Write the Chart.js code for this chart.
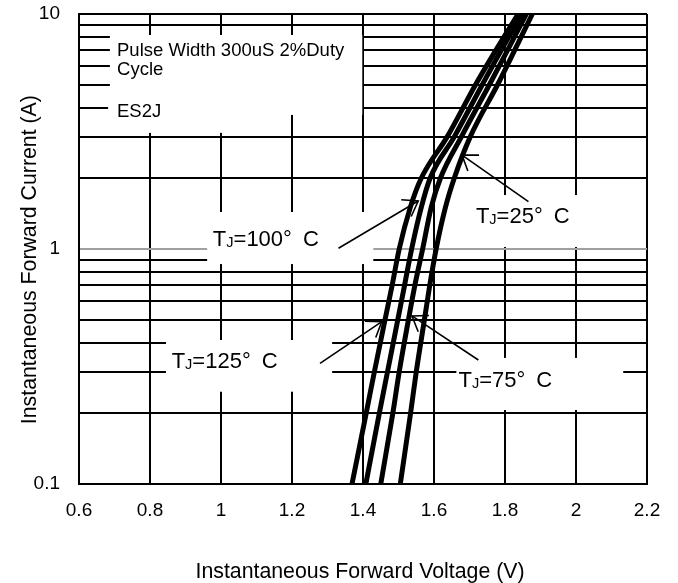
<!DOCTYPE html>
<html><head><meta charset="utf-8">
<script src="https://cdn.jsdelivr.net/npm/chart.js@4/dist/chart.umd.min.js"></script>
<style>html,body{margin:0;padding:0;background:#fff}#wrap{width:678px;height:583px;position:relative}</style>
</head><body><div id="wrap"><canvas id="c"></canvas></div>
<script>
// ---- data ----
const currentA = [0.1, 0.2, 0.3, 0.5, 0.7, 1, 1.5, 2, 3, 5, 7, 10];
const vf125 = [1.369, 1.409, 1.432, 1.462, 1.482, 1.502, 1.533, 1.564, 1.637, 1.717, 1.774, 1.837];
const vf100 = [1.408, 1.446, 1.469, 1.498, 1.517, 1.537, 1.564, 1.589, 1.657, 1.736, 1.789, 1.849];
const vf75  = [1.450, 1.484, 1.502, 1.528, 1.546, 1.568, 1.592, 1.618, 1.677, 1.756, 1.807, 1.860];
const vf25  = [1.505, 1.534, 1.550, 1.573, 1.588, 1.606, 1.632, 1.657, 1.702, 1.779, 1.827, 1.877];
const tjTemps = ['125', '100', '75', '25'];
const xTicks = [0.6, 0.8, 1, 1.2, 1.4, 1.6, 1.8, 2, 2.2];
const yGrid = [0.1,0.2,0.3,0.4,0.5,0.6,0.7,0.8,0.9,1,2,3,4,5,6,7,8,9,10];
const yTickLabels = ['0.1', '1', '10'];
const xTitle = 'Instantaneous Forward Voltage (V)';
const yTitle = 'Instantaneous Forward Current (A)';
const noteLines = ['Pulse Width 300uS 2%Duty', 'Cycle'];
const partName = 'ES2J';

const FONT = '"Liberation Sans", Arial, sans-serif';

// annotation layout (in data units: V on x, A on y)
const whiteBoxes = [
  {v0:0.687, v1:1.398, i0:8.14, i1:3.72},
  {v0:0.682, v1:1.110, i0:4.52, i1:3.12},
  {v0:0.961, v1:1.429, i0:1.437, i1:0.863},
  {v0:1.688, v1:2.150, i0:1.697, i1:1.02},
  {v0:0.845, v1:1.313, i0:0.41, i1:0.247},
  {v0:1.663, v1:2.133, i0:0.344, i1:0.2065}
];
const tjLabelPos = [ // 125,100,75,25
  {v:0.861, i:0.337},
  {v:0.977, i:1.114},
  {v:1.669, i:0.280},
  {v:1.718, i:1.395}
];
const arrows = [ // tail -> tip, order 125,100,75,25
  {v0:1.279, i0:0.326, v1:1.453, i1:0.491},
  {v0:1.331, i0:1.007, v1:1.5555, i1:1.601},
  {v0:1.725, i0:0.337, v1:1.538, i1:0.519},
  {v0:1.866, i0:1.59, v1:1.679, i1:2.51}
];

function drawTJ(ctx, px, capY, temp, size) {
  const base = capY + 0.358 * size;
  ctx.textAlign = 'left'; ctx.textBaseline = 'alphabetic';
  ctx.font = size + 'px ' + FONT;
  ctx.fillText('T', px, base);
  let w = ctx.measureText('T').width;
  const sub = size * 0.66;
  ctx.font = sub + 'px ' + FONT;
  ctx.fillText('J', px + w, base + size * 0.05);
  w += ctx.measureText('J').width;
  ctx.font = size + 'px ' + FONT;
  ctx.fillText('=' + temp + '\u00B0\u2002C', px + w, base);
}

const annot = {
  id: 'annot',
  beforeDatasetsDraw(chart) {
    const {ctx, scales: {x, y}} = chart;
    ctx.save();
    ctx.fillStyle = '#fff';
    whiteBoxes.forEach(b => {
      const x0 = x.getPixelForValue(b.v0), x1 = x.getPixelForValue(b.v1);
      const y0 = y.getPixelForValue(b.i0), y1 = y.getPixelForValue(b.i1);
      ctx.fillRect(x0, y0, x1 - x0, y1 - y0);
    });
    ctx.fillStyle = '#000';
    const fs = 18.5;
    ctx.font = fs + 'px ' + FONT;
    ctx.textAlign = 'left'; ctx.textBaseline = 'alphabetic';
    const nx = x.getPixelForValue(0.7071);
    ctx.fillText(noteLines[0], nx, y.getPixelForValue(7.06) + 0.358 * fs);
    ctx.fillText(noteLines[1], nx, y.getPixelForValue(5.89) + 0.358 * fs);
    ctx.fillText(partName, nx, y.getPixelForValue(3.90) + 0.358 * fs);
    tjTemps.forEach((t, k) => {
      const p = tjLabelPos[k];
      drawTJ(ctx, x.getPixelForValue(p.v), y.getPixelForValue(p.i), t, 22);
    });
    ctx.restore();
  },
  afterDatasetsDraw(chart) {
    const {ctx, scales: {x, y}} = chart;
    ctx.save();
    ctx.strokeStyle = '#000';
    ctx.lineWidth = 1.6;
    arrows.forEach(a => {
      const x0 = x.getPixelForValue(a.v0), y0 = y.getPixelForValue(a.i0);
      const x1 = x.getPixelForValue(a.v1), y1 = y.getPixelForValue(a.i1);
      ctx.beginPath(); ctx.moveTo(x0, y0); ctx.lineTo(x1, y1); ctx.stroke();
      const back = Math.atan2(y0 - y1, x0 - x1);
      const L = 17, h = 35 * Math.PI / 180;
      ctx.beginPath();
      ctx.moveTo(x1 + L * Math.cos(back + h), y1 + L * Math.sin(back + h));
      ctx.lineTo(x1, y1);
      ctx.lineTo(x1 + L * Math.cos(back - h), y1 + L * Math.sin(back - h));
      ctx.stroke();
    });
    ctx.restore();
  }
};

function series(v) { return v.map((vv, k) => ({x: vv, y: currentA[k]})); }
const dsBase = {showLine: true, borderColor: '#000', backgroundColor: '#000', borderWidth: 5,
  pointRadius: 0, cubicInterpolationMode: 'monotone', fill: false};

new Chart(document.getElementById('c'), {
  type: 'scatter',
  data: {
    datasets: [
      Object.assign({label: 'TJ=' + tjTemps[0], data: series(vf125)}, dsBase),
      Object.assign({label: 'TJ=' + tjTemps[1], data: series(vf100)}, dsBase),
      Object.assign({label: 'TJ=' + tjTemps[2], data: series(vf75)}, dsBase),
      Object.assign({label: 'TJ=' + tjTemps[3], data: series(vf25)}, dsBase)
    ]
  },
  options: {
    responsive: true, maintainAspectRatio: false, animation: false,
    devicePixelRatio: 1,
    layout: {padding: {top: 14, right: 31, bottom: 0, left: 0}},
    plugins: {legend: {display: false}, tooltip: {enabled: false}},
    scales: {
      x: {
        type: 'linear', min: 0.6, max: 2.2,
        afterBuildTicks: s => { s.ticks = xTicks.map(v => ({value: v})); },
        afterFit: s => { s.height = 99; s.paddingLeft = 0; s.paddingRight = 0; },
        ticks: {callback: v => String(v), color: '#000', padding: 15, maxRotation: 0, autoSkip: false,
          font: {family: FONT, size: 19}},
        grid: {color: '#000', lineWidth: 2, drawTicks: false},
        border: {color: '#000', width: 2},
        title: {display: true, text: xTitle + ' ', color: '#000', padding: {top: 0, bottom: 0},
          font: {family: FONT, size: 21.3, lineHeight: 1}}
      },
      y: {
        type: 'logarithmic', min: 0.1, max: 10,
        afterBuildTicks: s => { s.ticks = yGrid.map(v => ({value: v})); },
        afterFit: s => { s.width = 79; s.paddingTop = 0; s.paddingBottom = 0; },
        ticks: {callback: v => (yTickLabels.includes(String(v)) ? String(v) : ''), color: '#000',
          padding: 19, autoSkip: false, font: {family: FONT, size: 19}},
        grid: {color: c => (c.tick && c.tick.value === 1 ? '#a0a0a0' : '#000'), lineWidth: 2, drawTicks: false},
        border: {color: '#000', width: 2},
        title: {display: true, text: yTitle + '\u2003', color: '#000', padding: {top: 19.5, bottom: 0},
          font: {family: FONT, size: 21.3, lineHeight: 1}}
      }
    }
  },
  plugins: [annot]
});
</script>
</body></html>
